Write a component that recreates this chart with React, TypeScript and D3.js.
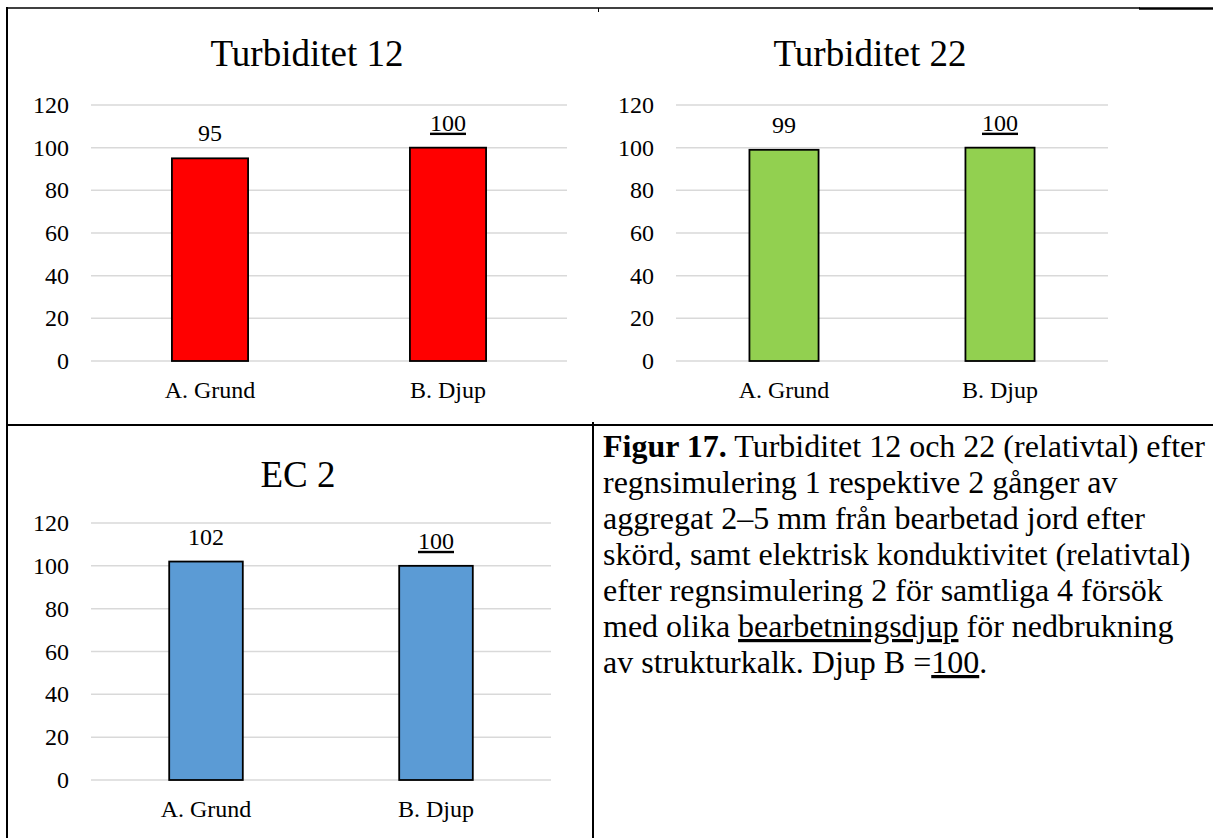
import React from "react";
import * as d3 from "d3";

// Relative values (Djup B = 100)
const categories = ["A. Grund", "B. Djup"];
const turbiditet12 = [95, 100];
const turbiditet22 = [99, 100];
const ec2 = [102, 100];
const yTicks = [0, 20, 40, 60, 80, 100, 120];
const referenceCategory = "B. Djup";

const captionLines: { text: string; bold?: boolean; underline?: boolean }[][] = [
  [{ text: "Figur 17.", bold: true }, { text: " Turbiditet 12 och 22 (relativtal) efter" }],
  [{ text: "regnsimulering 1 respektive 2 gånger av" }],
  [{ text: "aggregat 2–5 mm från bearbetad jord efter" }],
  [{ text: "skörd, samt elektrisk konduktivitet (relativtal)" }],
  [{ text: "efter regnsimulering 2 för samtliga 4 försök" }],
  [
    { text: "med olika " },
    { text: "bearbetningsdjup", underline: true },
    { text: " för nedbrukning" },
  ],
  [{ text: "av strukturkalk. Djup B =" }, { text: "100", underline: true }, { text: "." }],
];

const FONT = "'Liberation Serif', 'Times New Roman', Times, serif";

type PanelProps = {
  title: string;
  values: number[];
  color: string;
  titleX: number;
  titleY: number;
  x0: number;
  x1: number;
  yTop: number;
  yBottom: number;
};

function BarPanel({ title, values, color, titleX, titleY, x0, x1, yTop, yBottom }: PanelProps) {
  const x = d3.scaleBand<string>().domain(categories).range([x0, x1]).paddingInner(0.68).paddingOuter(0.34);
  const y = d3.scaleLinear().domain([0, 120]).range([yBottom, yTop]);
  return (
    <g>
      <text x={titleX} y={titleY} textAnchor="middle" fontSize={37} fontFamily={FONT} fill="#000">
        {title}
      </text>
      {yTicks.map((t) => (
        <g key={t}>
          <line x1={x0} x2={x1} y1={y(t)} y2={y(t)} stroke="#d9d9d9" strokeWidth={1.5} />
          <text x={x0 - 22} y={y(t) + 8} textAnchor="end" fontSize={24} fontFamily={FONT} fill="#000">
            {t}
          </text>
        </g>
      ))}
      {categories.map((c, i) => {
        const bx = x(c)!;
        const bw = x.bandwidth();
        const v = values[i];
        const isRef = c === referenceCategory;
        return (
          <g key={c}>
            <rect x={bx} y={y(v)} width={bw} height={y(0) - y(v)} fill={color} stroke="#000" strokeWidth={1.8} />
            <text
              x={bx + bw / 2}
              y={y(v) - 17}
              textAnchor="middle"
              fontSize={24}
              fontFamily={FONT}
              fill="#000"
              style={isRef ? { textDecoration: "underline" } : undefined}
            >
              {v}
            </text>
            <text x={bx + bw / 2} y={yBottom + 37} textAnchor="middle" fontSize={24} fontFamily={FONT} fill="#000">
              {c}
            </text>
          </g>
        );
      })}
    </g>
  );
}

export default function App() {
  return (
    <svg
      width={1213}
      height={838}
      viewBox="0 0 1213 838"
      style={{ position: "absolute", left: 0, top: 0, background: "#fff" }}
    >
      <rect x={0} y={0} width={1213} height={838} fill="#fff" />
      {/* table rules */}
      <line x1={7} x2={1140} y1={8} y2={8} stroke="#000" strokeWidth={1.5} />
      <line x1={1139} x2={1213} y1={8.5} y2={8.5} stroke="#000" strokeWidth={2.5} />
      <line x1={598.5} x2={598.5} y1={8} y2={12} stroke="#000" strokeWidth={1} />
      <line x1={7} x2={7} y1={7} y2={838} stroke="#000" strokeWidth={2} />
      <line x1={6} x2={1213} y1={425} y2={425} stroke="#000" strokeWidth={2} />
      <line x1={593} x2={593} y1={422} y2={838} stroke="#000" strokeWidth={2} />

      <BarPanel
        title="Turbiditet 12"
        values={turbiditet12}
        color="#ff0000"
        titleX={307}
        titleY={66}
        x0={91}
        x1={567}
        yTop={105}
        yBottom={361}
      />
      <BarPanel
        title="Turbiditet 22"
        values={turbiditet22}
        color="#92d050"
        titleX={870}
        titleY={66}
        x0={676}
        x1={1108}
        yTop={105}
        yBottom={361}
      />
      <BarPanel
        title="EC 2"
        values={ec2}
        color="#5b9bd5"
        titleX={298}
        titleY={487}
        x0={91}
        x1={551}
        yTop={523}
        yBottom={780}
      />

      {captionLines.map((parts, i) => (
        <text key={i} x={603} y={457 + i * 36} fontSize={32} fontFamily={FONT} fill="#000">
          {parts.map((p, j) => (
            <tspan
              key={j}
              fontWeight={p.bold ? "bold" : "normal"}
              style={p.underline ? { textDecoration: "underline" } : undefined}
            >
              {p.text}
            </tspan>
          ))}
        </text>
      ))}
    </svg>
  );
}
